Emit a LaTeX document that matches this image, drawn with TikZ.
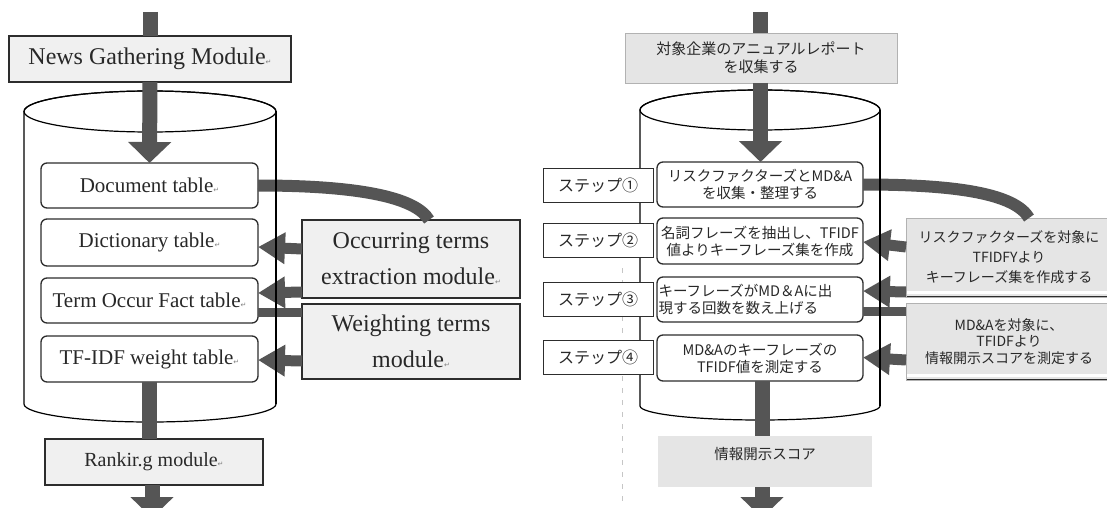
\documentclass[tikz,border=0pt]{standalone}
\usepackage{fontspec}
\setmainfont{Liberation Serif}
\newfontfamily\jpfont{Noto Sans CJK JP}
\newfontfamily\symfont{DejaVu Sans}
\usetikzlibrary{arrows.meta,calc}
\definecolor{arrowgray}{RGB}{85,85,85}
\definecolor{edgegray}{RGB}{45,45,45}
\definecolor{modfill}{RGB}{240,240,240}
\definecolor{jpfill}{RGB}{229,229,229}
\definecolor{inkgray}{RGB}{40,40,40}
% small paragraph mark after a line of text
\newcommand{\retmark}{{\symfont\fontsize{7}{7}\selectfont\color{gray}↵}}

\begin{document}
\begin{tikzpicture}[x=1pt,y=-1pt,
  module/.style={draw=edgegray, line width=1.4pt, fill=modfill, text=inkgray,
    inner sep=0pt, outer sep=0pt, align=center, font=\fontsize{24}{36}\selectfont},
  tablebox/.style={draw=edgegray, line width=1.3pt, rounded corners=6pt, fill=white,
    minimum width=217pt, minimum height=45pt, inner sep=0pt, outer sep=0pt,
    text=inkgray, font=\fontsize{21}{24}\selectfont},
  stepbox/.style={draw=edgegray, line width=1.3pt, rounded corners=6pt, fill=white,
    minimum width=206pt, minimum height=45pt, inner sep=0pt, outer sep=0pt,
    align=center, text=inkgray, font=\jpfont\fontsize{14.5}{17}\selectfont},
  steplabel/.style={draw=edgegray, line width=1pt, fill=white,
    minimum width=110pt, minimum height=34pt, inner sep=0pt, outer sep=0pt,
    text=inkgray, font=\jpfont\fontsize{16}{18}\selectfont},
  jpmod/.style={fill=jpfill, draw=gray!60, line width=0.7pt, inner sep=0pt, outer sep=0pt,
    align=center, text=inkgray, font=\jpfont\fontsize{14}{20}\selectfont},
  shadowed/.style={path picture={
    \draw[white, line width=2.5pt]
      ([yshift=4.5pt]path picture bounding box.south west) --
      ([yshift=4.5pt]path picture bounding box.south east);
    \draw[edgegray, line width=2.4pt]
      (path picture bounding box.north west) --
      (path picture bounding box.south west) --
      (path picture bounding box.south east);}},
  cyl/.style={draw=black, line width=1.2pt},
  bigshaft/.style={draw=arrowgray, line width=15pt},
  bigarrow/.style={bigshaft, -{Triangle[width=42pt,length=21pt]}},
  sidearrow/.style={draw=arrowgray, line width=11pt, -{Triangle[width=30pt,length=27pt]}},
  sideline/.style={draw=arrowgray, line width=9pt},
  bendline/.style={draw=arrowgray, line width=12pt},
]
\useasboundingbox (0,0) rectangle (1107,508);
\fill[white] (0,0) rectangle (1107,508);

% ---------- left: database cylinder ----------
\filldraw[cyl, fill=white] (24,111.5) -- (24,404)
  arc[start angle=180, end angle=360, x radius=126pt, y radius=18pt] -- (276,111.5)
  arc[start angle=0, end angle=180, x radius=126pt, y radius=20.5pt] -- cycle;
\draw[cyl] (150,111.5) ellipse[x radius=126pt, y radius=20.5pt];

% ---------- right: database cylinder ----------
\filldraw[cyl, fill=white] (640,110) -- (640,406)
  arc[start angle=180, end angle=360, x radius=120pt, y radius=14pt] -- (880,110)
  arc[start angle=0, end angle=180, x radius=120pt, y radius=20pt] -- cycle;
\draw[cyl] (760,110) ellipse[x radius=120pt, y radius=20pt];

% dotted divider
\draw[gray!45, line width=0.8pt, dash pattern=on 5pt off 7pt] (622,268) -- (622,508);

% ---------- left nodes ----------
\node[module, minimum width=282pt, minimum height=46pt] (news) at (150,59) {News Gathering Module\retmark};
\node[tablebox] (doc) at (149.5,185.5) {Document table\retmark};
\node[tablebox, minimum height=47pt] (dict) at (149.5,242.5) {Dictionary table\retmark};
\node[tablebox] (term) at (149.5,300.5) {Term Occur Fact table\retmark};
\node[tablebox, minimum height=46pt] (tfidf) at (149.5,359) {TF-IDF weight table\retmark};
\node[module, minimum width=218pt, minimum height=46pt, font=\fontsize{20}{24}\selectfont] (rank) at (154,462) {Rankir.g module\retmark};
\node[module, minimum width=218pt, minimum height=78pt] (occ) at (411,259) {Occurring terms\\extraction module\retmark};
\node[module, minimum width=218pt, minimum height=75pt] (wt) at (411,341.5) {Weighting terms\\module\retmark};

% ---------- right nodes ----------
\node[jpmod, font=\jpfont\fontsize{15}{18}\selectfont, minimum width=272pt, minimum height=50pt] (rtop) at (761,58) {対象企業のアニュアルレポート\\を収集する};
\node[stepbox] (s1) at (760,184.5) {リスクファクターズとMD\&A\\を収集・整理する};
\node[stepbox, minimum height=46pt] (s2) at (760,241) {名詞フレーズを抽出し、TFIDF\\値よりキーフレーズ集を作成};
\node[stepbox, text width=203pt, align=left, inner xsep=1.5pt] (s3) at (760,299.5) {キーフレーズがMD＆Aに出\\現する回数を数え上げる};
\node[stepbox, minimum height=46pt] (s4) at (760,358) {MD\&Aのキーフレーズの\\TFIDF値を測定する};
\node[jpmod, shadowed, minimum width=206pt, minimum height=79pt] (bA) at (1009,257.5) {リスクファクターズを対象に\\TFIDFYより\\キーフレーズ集を作成する};
\node[jpmod, shadowed, font=\jpfont\fontsize{14}{16.5}\selectfont, minimum width=206pt, minimum height=77pt] (bB) at (1009,341.5) {MD\&Aを対象に、\\TFIDFより\\情報開示スコアを測定する};
\node[jpmod, draw=none, font=\jpfont\fontsize{14.5}{17}\selectfont, minimum width=214pt, text height=23pt, text depth=28pt] (score) at (765,461.5) {情報開示スコア};

% ---------- left connectors ----------
\coordinate (ltop) at (150,12);
\coordinate (lbot) at (152,518);
\draw[bigshaft] (ltop) -- (ltop |- news.north);
\draw[bigarrow] (news.south) -- (doc.north);
\draw[bigshaft] (tfidf.south) -- (tfidf.south |- rank.north);
\draw[bigarrow] (lbot |- rank.south) -- (lbot);
\draw[bendline] (doc.east) .. controls +(95,0) and +(-14,-24) .. ([xshift=18pt]occ.north);
\draw[sidearrow] ([yshift=10pt]occ.west) -- ([yshift=-4.5pt]dict.east);
\draw[sidearrow] ([yshift=-33pt]occ.west) -- ([yshift=7.5pt]term.east);
\draw[sideline] ([yshift=-11.5pt]term.east) -- ([yshift=29.5pt]wt.west);
\draw[sidearrow] ([yshift=-19.5pt]wt.west) -- ([yshift=-1pt]tfidf.east);

% ---------- right connectors ----------
\coordinate (rtopin) at (760.5,12);
\coordinate (rbot) at (762,518);
\draw[bigshaft] (rtopin) -- (rtopin |- rtop.north);
\draw[bigarrow] (rtopin |- rtop.south) -- (rtopin |- s1.north);
\draw[bigshaft] (rbot |- s4.south) -- (rbot |- score.north);
\draw[bigarrow] (rbot |- score.south) -- (rbot);
\draw[bendline] (s1.east) .. controls +(95,0) and +(-14,-24) .. ([xshift=20pt]bA.north);
\draw[sidearrow] ([yshift=10.5pt]bA.west) -- ([yshift=-1pt]s2.east);
\draw[sidearrow] ([yshift=-34.5pt]bA.west) -- ([yshift=8.5pt]s3.east);
\draw[sideline] ([yshift=-11.5pt]s3.east) -- ([yshift=30.5pt]bB.west);
\draw[sidearrow] ([yshift=-18.5pt]bB.west) -- ([yshift=0.5pt]s4.east);

% cylinder walls in front of the side connectors
\draw[cyl] (276,111.5) -- (276,404);
\draw[cyl] (880,110) -- (880,406);

% step labels
\node[steplabel] (l1) at (598,185) {ステップ①};
\node[steplabel] (l2) at (598,240) {ステップ②};
\node[steplabel] (l3) at (598,299) {ステップ③};
\node[steplabel] (l4) at (598,357.5) {ステップ④};
\end{tikzpicture}
\end{document}
